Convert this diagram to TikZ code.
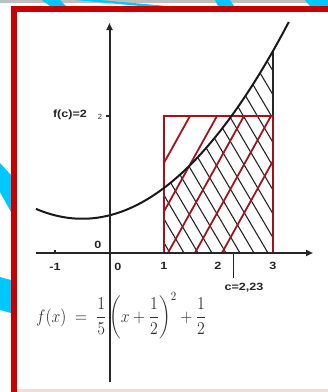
\documentclass[tikz,border=0pt]{standalone}
\usepackage{amsmath}
\usepackage{fontspec}
\newfontfamily\labfont{Liberation Sans}
\usetikzlibrary{arrows.meta}
\definecolor{framered}{RGB}{200,0,0}
\definecolor{rectred}{RGB}{160,20,30}
\definecolor{skyblue}{RGB}{0,200,255}
\definecolor{stripgray}{RGB}{190,190,190}
\definecolor{pinkline}{RGB}{246,218,218}
\tikzset{
  axisline/.style={line width=2pt, draw=black!85, -{Triangle[length=7pt,width=6pt]}},
  curveline/.style={line width=2pt, black!90},
  redhatch/.style={line width=1.8pt, rectred},
  blackhatch/.style={line width=1.1pt, black!85},
  lab/.style={font=\labfont\bfseries\fontsize{10.5}{12}\selectfont, text=black!85, inner sep=0pt, xscale=1.2},
  smalllab/.style={font=\labfont\fontsize{7.5}{9}\selectfont, text=black!80, inner sep=0pt},
  formula/.style={font=\fontsize{14.4}{17}\selectfont, text=black!80, inner sep=0pt, anchor=west, xscale=1.1, yscale=1.25}
}
\begin{document}
\begin{tikzpicture}[x=1pt,y=-1pt]
\useasboundingbox (0,0) rectangle (328,392);
\fill[white] (0,0) rectangle (328,392);
% top strip
\fill[stripgray] (0,0) rectangle (328,3.3);
\begin{scope}
  \clip (0,0) rectangle (328,6);
  \fill[skyblue] (42,0) -- (60,0) -- (66,6) -- (50,6) -- cycle;
  \fill[skyblue] (75,0) -- (100,0) -- (167,6) -- (140,6) -- cycle;
  \fill[skyblue] (215,0) -- (230,0) -- (234,6) -- (218,6) -- cycle;
  \fill[skyblue] (305,0) -- (330,0) -- (330,6) -- (310,6) -- cycle;
\end{scope}
% left blue bands
\fill[skyblue] (0,163) -- (11,175) -- (11,212) -- (0,192) -- cycle;
\fill[skyblue] (0,277) -- (11,280) -- (11,313) -- (0,310) -- cycle;
% frame
\fill[framered] (11,6) rectangle (328,12);
\fill[framered] (11,6) rectangle (17,392);
\fill[pinkline] (17,389) rectangle (328,392);

% formula
\node[formula] (fx) at (36,316) {$f(x)\;=\;\dfrac{1}{5}\left(x+\dfrac{1}{2}\right)^{2}+\dfrac{1}{2}$};

% black hatch under curve from 1 to 3
\begin{scope}
  \clip (164,253) -- plot[domain=1:3, samples=40, smooth] ({109.5+54.5*\x},{253-68.5*(0.2*(\x+0.5)^2+0.5)}) -- (273,253) -- cycle;
  \foreach \k in {-2,...,16} {
    \draw[blackhatch] ({170+14*\k-230/1.7},{253-230}) -- ({170+14*\k+20/1.7},{253+20});
  }
\end{scope}
\draw[line width=1.2pt, black!85] (273,253) -- (273,{253-68.5*(0.2*3.5^2+0.5)});

% red hatch in rectangle
\begin{scope}
  \clip (164,116) rectangle (273,253);
  \foreach \k in {-6,...,5} {
    \draw[redhatch] ({163+27*\k-150/1.8},{116+150}) -- ({163+27*\k+20/1.8},{116-20});
  }
\end{scope}
\draw[line width=2pt, rectred] (164,116) rectangle (273,253);

% curve
\draw[curveline] plot[domain=-1.35:3.29, samples=80, smooth] ({109.5+54.5*\x},{253-68.5*(0.2*(\x+0.5)^2+0.5)});

% axes
\coordinate (xl) at (36,253);
\coordinate (xr) at (313,253);
\coordinate (yb) at (109.5,382);
\coordinate (yt) at (109.5,23);
\draw[axisline] (xl) -- (xr);
\draw[axisline] (yb) -- (yt);

% ticks
\coordinate (t2) at (109.5,116);
\coordinate (t2l) at (106,116);
\draw[line width=1.5pt, black!85] (t2) -- (t2l);
\coordinate (tm1) at (55,253);
\coordinate (tm1u) at (55,249.5);
\draw[line width=1.5pt, black!85] (tm1) -- (tm1u);
\coordinate (tc) at (233,253);
\coordinate (tcb) at (233,278);
\draw[line width=1pt, black!85] (tc) -- (tcb);

% labels
\node[lab] (fc) at (70,115) {f(c)=2};
\node[smalllab] (l2y) at (100,117) {2};
\node[lab] (o1) at (98,245) {0};
\node[lab] (lm1) at (55,267) {-1};
\node[lab] (o2) at (118,267) {0};
\node[lab] (l1) at (164,266) {1};
\node[lab] (l2) at (218,266) {2};
\node[lab] (l3) at (273,266) {3};
\node[lab] (lc) at (244,288) {c=2,23};
\end{tikzpicture}
\end{document}
